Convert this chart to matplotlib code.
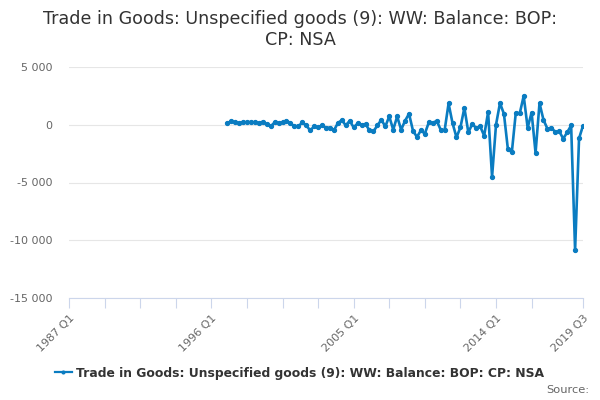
import matplotlib
matplotlib.use("Agg")
import matplotlib.pyplot as plt
from matplotlib.ticker import FuncFormatter

# quarterly series, first value is 1997 Q1
start_label = "1997 Q1"
values = [
    145, 290, 200, 145, 230, 200, 230, 200, 145, 260,
    30, -145, 200, 145, 200, 345, 145, -145, -145, 200,
    -60, -490, -145, -230, -60, -260, -260, -490, 145, 400,
    -60, 345, -230, 115, 0, 60, -490, -575, -60, 430,
    -145, 720, -430, 720, -430, 345, 950, -517, -1060, -490,
    -775, 200, 145, 345, -430, -490, 1840, 145, -1090, -230,
    1465, -660, 60, -290, -145, -950, 1090, -4510, 0, 1870,
    950, -2100, -2380, 1030, 975, 2500, -260, 1060, -2440, 1870,
    430, -345, -260, -630, -575, -1205, -660, -60, -10860, -1180,
    -86,
]
axis_start = "1987 Q1"
axis_end = "2019 Q3"
tick_labels = ["1987 Q1", "1996 Q1", "2005 Q1", "2014 Q1", "2019 Q3"]
y_ticks = [-15000, -10000, -5000, 0, 5000]

title = "Trade in Goods: Unspecified goods (9): WW: Balance: BOP:\nCP: NSA"
series_name = "Trade in Goods: Unspecified goods (9): WW: Balance: BOP: CP: NSA"


def q_index(label):
    year, q = label.split(" Q")
    return (int(year) - int(axis_start[:4])) * 4 + int(q) - 1


x0 = q_index(start_label)
xs = [x0 + i for i in range(len(values))]
x_end = q_index(axis_end)

plt.rcParams['font.family'] = ['DejaVu Sans']
fig = plt.figure(figsize=(6, 4), dpi=100)
ax = fig.add_axes([69 / 600, 1 - 298 / 400, (583 - 69) / 600, (298 - 67) / 400])

blue = '#0a7cc1'
line, = ax.plot(xs, values, color=blue, lw=1.9, marker='o', ms=2.8,
                label=series_name, zorder=3)

ax.set_xlim(0, x_end)
ax.set_ylim(-15000, 5000)

ax.set_yticks(y_ticks)
ax.yaxis.set_major_formatter(FuncFormatter(
    lambda v, p: f"{int(v):,}".replace(",", " ")))
ax.grid(axis='y', color='#e6e6e6', lw=0.8)
ax.set_axisbelow(True)

# tick every 9 quarters, last one at the axis end
major = list(range(0, 118, 9)) + [x_end]
lab_pos = [q_index(t) for t in tick_labels]
ax.set_xticks(major)
ax.set_xticklabels([tick_labels[lab_pos.index(m)] if m in lab_pos else ""
                    for m in major], rotation=45, ha='right',
                   rotation_mode='anchor')

ax.tick_params(axis='x', length=7, color='#ccd6eb', width=0.8,
               labelsize=8, labelcolor='#666666', pad=4)
ax.tick_params(axis='y', length=0, labelsize=8, labelcolor='#666666', pad=12)

for s in ['top', 'right', 'left']:
    ax.spines[s].set_visible(False)
ax.spines['bottom'].set_color('#ccd6eb')
ax.spines['bottom'].set_linewidth(0.8)

fig.text(0.5, 0.975, title, ha='center', va='top', fontsize=12.6,
         color='#333333', linespacing=1.2)

leg = fig.legend(handles=[line], loc='center', bbox_to_anchor=(0.5, 1 - 373 / 400),
                 frameon=False, handlelength=1.3, handletextpad=0.4,
                 prop={'size': 8.9, 'weight': 'bold'}, markerscale=0.7)
for t in leg.get_texts():
    t.set_color('#333333')
leg.legend_handles[0].set_linewidth(1.6)

fig.text(589 / 600, 1 - 390 / 400, "Source:", ha='right', va='center',
         fontsize=8.2, color='#666666')

plt.savefig("out.png", dpi=100)
